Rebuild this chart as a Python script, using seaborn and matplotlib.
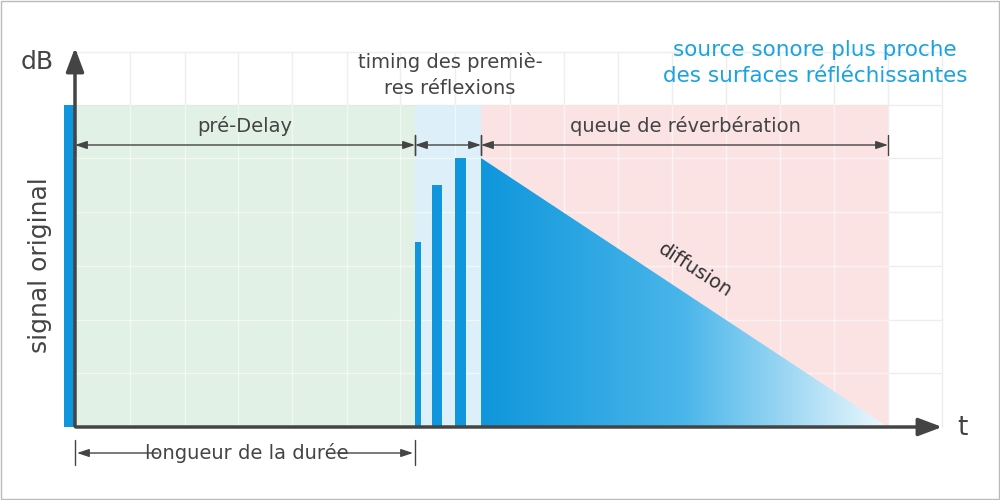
import numpy as np
import matplotlib.pyplot as plt
import seaborn as sns
from matplotlib.patches import Polygon, Rectangle
from matplotlib.colors import LinearSegmentedColormap

sns.set_theme(style="white")
plt.rcParams["font.family"] = ["Liberation Sans Narrow", "DejaVu Sans"]

# --- diagram data (pixel-like units, y grows downward) ---
origin = (75, 427)
grid_x = [130, 185, 238, 292, 347, 400, 455, 510, 564, 618, 672, 726, 780, 834, 888, 942]
grid_y = [52, 105, 158, 212, 266, 320, 373]
zones_x = [75, 415, 481, 888]
zone_colors = ["#dcefe1", "#d8eef8", "#fbdfe0"]
zone_top = 105
refl_left = [415, 432, 455]
refl_right = [421, 442, 466]
refl_top = [242, 185, 158]
tail_x = [481, 888]
tail_y = [158, 427]
direct_x = [64, 75]
direct_top = 105

blue = "#0f96dc"
grey = "#444444"

fig = plt.figure(figsize=(10, 5), dpi=100)
ax = fig.add_axes([0, 0, 1, 1])
ax.set_xlim(0, 1000)
ax.set_ylim(500, 0)
ax.axis("off")

# border
ax.add_patch(Rectangle((1, 1), 998, 498, fill=False, ec="#bbbbbb", lw=1))

# grid
for gx in grid_x:
    ax.plot([gx, gx], [grid_y[0], origin[1]], color="#eeeeee", lw=1, zorder=0)
for gy in grid_y:
    ax.plot([origin[0], 942], [gy, gy], color="#eeeeee", lw=1, zorder=0)

# zones
for i in range(3):
    ax.add_patch(Rectangle((zones_x[i], zone_top), zones_x[i + 1] - zones_x[i],
                           origin[1] - zone_top, color=zone_colors[i], alpha=0.85, lw=0, zorder=1))
for gx in grid_x:
    if gx < zones_x[-1]:
        ax.plot([gx, gx], [zone_top, origin[1]], color="white", lw=1, alpha=0.6, zorder=1.5)
for gy in grid_y[2:]:
    ax.plot([origin[0], zones_x[-1]], [gy, gy], color="white", lw=1, alpha=0.6, zorder=1.5)

# direct signal
ax.add_patch(Rectangle((direct_x[0], direct_top), direct_x[1] - direct_x[0],
                       origin[1] - direct_top, color=blue, lw=0, zorder=3))
# reflections
for l, r, t in zip(refl_left, refl_right, refl_top):
    ax.add_patch(Rectangle((l, t), r - l, origin[1] - t, color=blue, lw=0, zorder=3))

# reverb tail gradient
cmap = LinearSegmentedColormap.from_list("tail", [blue, "#4ab6ea", "#eef8fd"])
grad = np.linspace(0, 1, 256).reshape(1, -1)
im = ax.imshow(grad, cmap=cmap, extent=[tail_x[0], tail_x[1], origin[1], tail_y[0]],
               aspect="auto", zorder=3)
tri = Polygon([[tail_x[0], tail_y[0]], [tail_x[0], origin[1]], [tail_x[1], tail_y[1]]],
              closed=True, transform=ax.transData, fc="none", ec="none")
ax.add_patch(tri)
im.set_clip_path(tri)

# axes arrows
ax.annotate("", xy=(945, origin[1]), xytext=(origin[0] - 2, origin[1]),
            arrowprops=dict(arrowstyle="-|>,head_length=1.2,head_width=0.45", color=grey, lw=2.5))
ax.annotate("", xy=(origin[0], 45), xytext=(origin[0], origin[1] + 2),
            arrowprops=dict(arrowstyle="-|>,head_length=1.2,head_width=0.45", color=grey, lw=2.5))

# dimension arrows
def dim(x0, x1, y):
    ax.annotate("", xy=(x1, y), xytext=(x0, y),
                arrowprops=dict(arrowstyle="<|-|>,head_length=0.6,head_width=0.2", color=grey, lw=1, shrinkA=0, shrinkB=0))
    for xx in (x0, x1):
        ax.plot([xx, xx], [y - 10, y + 10], color=grey, lw=1)

dim(75, 415, 145)
dim(415, 481, 145)
dim(481, 888, 145)
ax.plot([75, 75], [440, 465], color=grey, lw=1)
ax.plot([415, 415], [440, 465], color=grey, lw=1)
ax.annotate("", xy=(77, 453), xytext=(158, 453),
            arrowprops=dict(arrowstyle="-|>,head_length=0.6,head_width=0.2", color=grey, lw=1, shrinkA=0, shrinkB=0))
ax.annotate("", xy=(413, 453), xytext=(337, 453),
            arrowprops=dict(arrowstyle="-|>,head_length=0.6,head_width=0.2", color=grey, lw=1, shrinkA=0, shrinkB=0))

# texts
fs = 14
ax.text(245, 126, "pré-Delay", ha="center", va="center", color=grey, fontsize=fs)
ax.text(685, 126, "queue de réverbération", ha="center", va="center", color=grey, fontsize=fs)
ax.text(450, 75, "timing des premiè-\nres réflexions", ha="center", va="center",
        color=grey, fontsize=fs, linespacing=1.5)
ax.text(815, 63, "source sonore plus proche\ndes surfaces réfléchissantes", ha="center", va="center",
        color="#1aa3e0", fontsize=15.5, linespacing=1.4)
ax.text(247, 453, "longueur de la durée", ha="center", va="center", color=grey, fontsize=fs)
ax.text(695, 270, "diffusion", ha="center", va="center", color="#333333", fontsize=fs, rotation=-33)
ax.text(40, 265, "signal original", ha="center", va="center", color=grey, fontsize=18, rotation=90)
ax.text(37, 62, "dB", ha="center", va="center", color=grey, fontsize=18)
ax.text(962, 428, "t", ha="center", va="center", color=grey, fontsize=19)

fig.savefig("out.png", dpi=100)
